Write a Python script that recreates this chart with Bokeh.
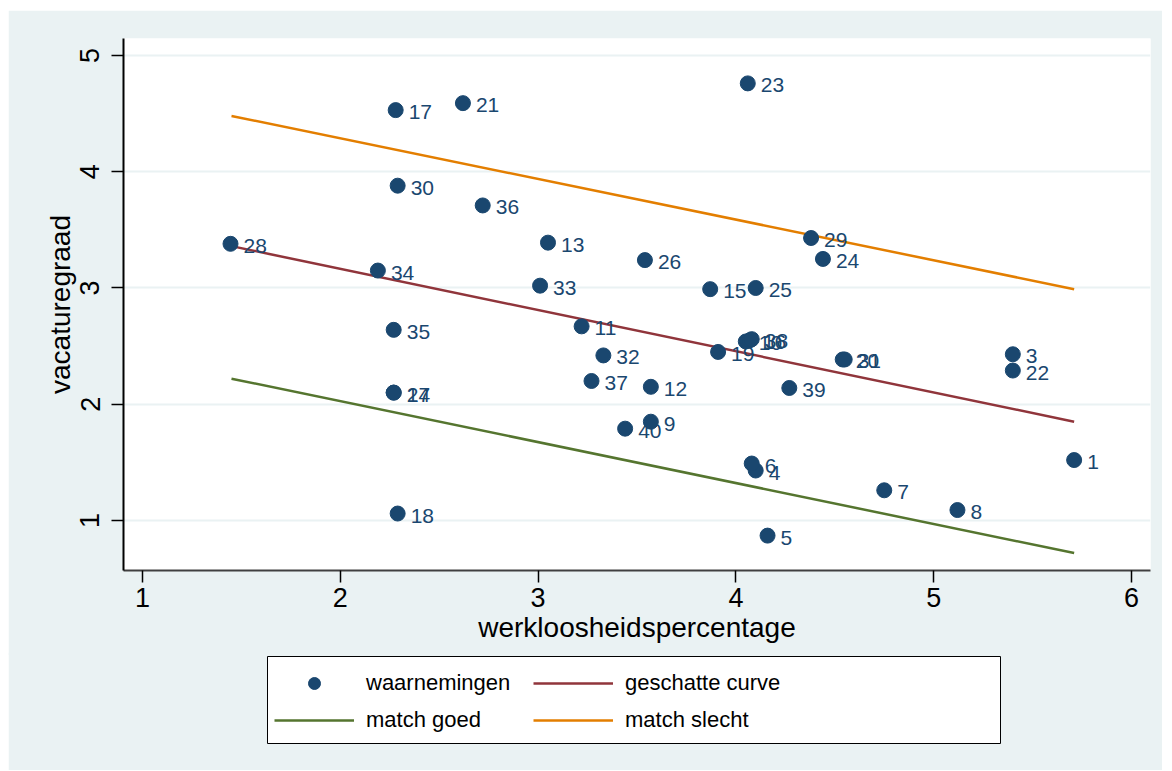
from bokeh.plotting import figure
from bokeh.models import Range1d, Legend, LegendItem, ColumnDataSource, FixedTicker
from bokeh.core.properties import value
from bokeh.embed import file_html
from bokeh.resources import INLINE

# observations
obs_id = ["1", "3", "4", "5", "6", "7", "8", "9", "10", "11", "12", "13", "14", "15", "16",
          "17", "18", "19", "20", "21", "22", "23", "24", "25", "26", "27", "28", "29", "30",
          "31", "32", "33", "34", "35", "36", "37", "38", "39", "40"]
unemployment = [5.71, 5.40, 4.10, 4.16, 4.08, 4.75, 5.12, 3.57, 4.05, 3.22, 3.57, 3.05, 2.27, 3.87, 4.07,
                2.28, 2.29, 3.91, 4.54, 2.62, 5.40, 4.06, 4.44, 4.10, 3.54, 2.27, 1.445, 4.38, 2.29,
                4.55, 3.33, 3.01, 2.19, 2.27, 2.72, 3.27, 4.08, 4.27, 3.44]
vacancy = [1.52, 2.43, 1.43, 0.87, 1.49, 1.26, 1.09, 1.85, 2.54, 2.67, 2.15, 3.39, 2.10, 2.99, 2.55,
           4.53, 1.06, 2.45, 2.385, 4.59, 2.29, 4.76, 3.25, 3.00, 3.24, 2.10, 3.38, 3.43, 3.88,
           2.385, 2.42, 3.02, 3.15, 2.64, 3.71, 2.20, 2.56, 2.14, 1.79]

# fitted lines (endpoints)
line_x = [1.45, 5.71]
curve_y = [3.36, 1.85]
good_y = [2.22, 0.72]
bad_y = [4.48, 2.99]

x_ticks = [1, 2, 3, 4, 5, 6]
y_ticks = [1, 2, 3, 4, 5]

legend_labels = ["waarnemingen", "geschatte curve", "match goed", "match slecht"]

NAVY = "#1a476f"
MAROON = "#90353b"
GREEN = "#55752f"
ORANGE = "#e37e00"
BG = "#eaf2f3"
FONT = "Liberation Sans"

# ---------------- main plot ----------------
p = figure(width=1154, height=645, output_backend="svg", toolbar_location=None,
           x_range=Range1d(0.904, 6.096), y_range=Range1d(0.57, 5.146),
           min_border_left=115, min_border_right=12, min_border_top=28, min_border_bottom=85)
p.margin = (10, 0, 0, 8)
p.styles = {"vertical-align": "top"}
p.border_fill_color = BG
p.background_fill_color = "white"
p.outline_line_color = None

src = ColumnDataSource(dict(x=unemployment, y=vacancy, lab=obs_id))

p.line(line_x, curve_y, line_color=MAROON, line_width=2.5)
p.line(line_x, good_y, line_color=GREEN, line_width=2.5)
p.line(line_x, bad_y, line_color=ORANGE, line_width=2.5)
p.scatter("x", "y", source=src, size=15, marker="circle",
          fill_color=NAVY, line_color=NAVY)
p.text("x", "y", text="lab", source=src, x_offset=13, y_offset=2,
       text_font=value(FONT), text_font_size="21px", text_color=NAVY,
       text_baseline="middle", text_align="left")

p.xgrid.visible = False
p.ygrid.ticker = FixedTicker(ticks=y_ticks)
p.ygrid.grid_line_color = BG
p.ygrid.grid_line_width = 2

p.xaxis.ticker = FixedTicker(ticks=x_ticks)
p.yaxis.ticker = FixedTicker(ticks=y_ticks)
p.xaxis.axis_label = "werkloosheidspercentage"
p.yaxis.axis_label = "vacaturegraad"
for ax in (p.xaxis[0], p.yaxis[0]):
    ax.major_tick_out = 12
    ax.major_tick_in = 0
    ax.minor_tick_out = 0
    ax.minor_tick_in = 0
    ax.major_label_text_font = FONT
    ax.major_label_text_font_size = "27px"
    ax.major_label_text_color = "black"
    ax.axis_label_text_font = FONT
    ax.axis_label_text_font_size = "28px"
    ax.axis_label_text_font_style = "normal"
    ax.axis_label_text_color = "black"
    ax.major_tick_line_color = "black"
    ax.major_tick_line_width = 1.5
p.yaxis.axis_line_color = "black"
p.yaxis.axis_line_width = 2
p.xaxis.axis_line_color = "#404040"
p.xaxis.axis_line_width = 2
p.yaxis.major_label_orientation = "parallel"
p.yaxis.major_label_standoff = 12
p.yaxis.axis_label_standoff = 2
p.xaxis.major_label_standoff = 5
p.xaxis.axis_label_standoff = 2

# ---------------- legend panel ----------------
p2 = figure(width=1154, height=118, output_backend="svg", toolbar_location=None,
            x_axis_location=None, y_axis_location=None,
            x_range=Range1d(-10, -9), y_range=Range1d(-10, -9),
            min_border_left=259, min_border_right=162, min_border_top=4, min_border_bottom=27)
p2.margin = (-3, 0, 0, 8)
p2.styles = {"vertical-align": "top"}
p2.border_fill_color = BG
p2.background_fill_color = "white"
p2.outline_line_color = "black"
p2.outline_line_width = 1
p2.grid.visible = False

# legend entries reuse the chart's data (kept outside this panel's visible range)
l_obs = p2.scatter(unemployment, vacancy, size=16, marker="circle", fill_color=NAVY, line_color=NAVY)
l_curve = p2.line(line_x, curve_y, line_color=MAROON, line_width=2.5)
l_good = p2.line(line_x, good_y, line_color=GREEN, line_width=2.5)
l_bad = p2.line(line_x, bad_y, line_color=ORANGE, line_width=2.5)

legend = Legend(items=[
    LegendItem(label=legend_labels[0], renderers=[l_obs]),
    LegendItem(label=legend_labels[1], renderers=[l_curve]),
    LegendItem(label=legend_labels[2], renderers=[l_good]),
    LegendItem(label=legend_labels[3], renderers=[l_bad]),
], orientation="horizontal", ncols=2, location=(7, 8))
legend.label_text_font = FONT
legend.label_text_font_size = "22px"
legend.label_text_color = "black"
legend.glyph_width = 80
legend.glyph_height = 30
legend.label_height = 30
legend.label_width = 160
legend.label_standoff = 12
legend.spacing = 7
legend.padding = 10
legend.margin = 0
legend.border_line_color = None
legend.background_fill_alpha = 0
p2.add_layout(legend, "center")

open("out.html", "w").write(file_html([p, p2], INLINE))
